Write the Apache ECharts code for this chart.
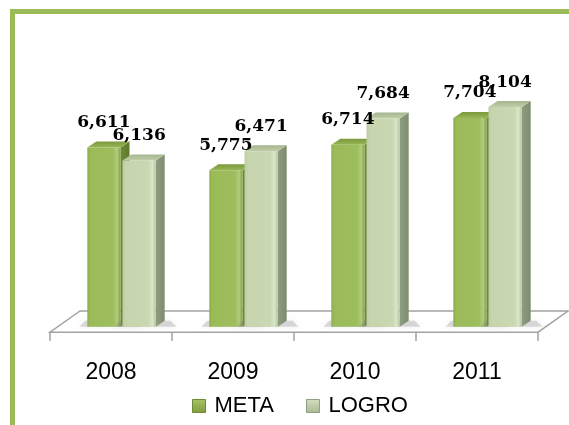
<!DOCTYPE html>
<html>
<head>
<meta charset="utf-8">
<script src="https://cdn.jsdelivr.net/npm/echarts@6/dist/echarts.min.js"></script>
<style>
  html, body { margin: 0; padding: 0; background: #fff; }
  #canvas { width: 569px; height: 425px; }
</style>
</head>
<body>
<div id="canvas"></div>
<script>
const years = ['2008', '2009', '2010', '2011'];
const meta = [6611, 5775, 6714, 7704];
const logro = [6136, 6471, 7684, 8104];

const G = echarts.graphic;
const lin = (x2, y2, stops) => new G.LinearGradient(0, 0, x2, y2,
    stops.map((c, i) => ({offset: c[0], color: c[1]})));

// face colours of the fake 3d bars
const look = {
    META: {
        front: [[0, '#8caf4b'], [0.1, '#9bbb59'], [0.78, '#9ebe5d'], [0.9, '#b2cc7f'], [1, '#83a243']],
        top: [[0, '#7c993c'], [1, '#97b655']],
        side: [[0, '#6f8b37'], [1, '#5f782d']]
    },
    LOGRO: {
        front: [[0, '#bccca4'], [0.1, '#c6d5ad'], [0.78, '#c9d8b2'], [0.9, '#dbe6ca'], [1, '#b6c69d']],
        top: [[0, '#a5b58f'], [1, '#c0cfa8']],
        side: [[0, '#8e9e80'], [1, '#7d8b6f']]
    }
};

let barItem = function (name, left) {
    return function (params, api) {
        var cat = api.value(0), val = api.value(1);
        var base = api.coord([cat, 0]);
        var top = api.coord([cat, val]);
        var bw = api.size([1, 0])[0] * 0.272;
        var x0 = left ? base[0] - 1 - bw : base[0] + 1;
        var x1 = x0 + bw;
        var dx = 9, dy = -6;
        var c = look[name];
        return {
            type: 'group',
            children: [
                {
                    // soft shadow on the floor
                    type: 'polygon',
                    shape: {points: [[x0 - 8, base[1]], [x1 + dx + 12, base[1]], [x1 + dx + 6, base[1] + dy], [x0 - 2, base[1] + dy]]},
                    style: {fill: 'rgba(120,120,120,0.25)', shadowBlur: 6, shadowColor: 'rgba(120,120,120,0.5)'}
                },
                {
                    type: 'polygon',
                    shape: {points: [[x1, top[1]], [x1 + dx, top[1] + dy], [x1 + dx, base[1] + dy], [x1, base[1]]]},
                    style: {fill: lin(1, 0, c.side)}
                },
                {
                    type: 'rect',
                    shape: {x: x0, y: top[1], width: bw, height: base[1] - top[1]},
                    style: {fill: lin(1, 0, c.front)}
                },
                {
                    type: 'polygon',
                    shape: {points: [[x0, top[1]], [x0 + dx, top[1] + dy], [x1 + dx, top[1] + dy], [x1, top[1]]]},
                    style: {fill: lin(0, 1, c.top)}
                },
                {
                    type: 'text',
                    z2: 50,
                    style: {
                        x: x0 + bw / 2,
                        y: top[1] - 25,
                        text: val.toLocaleString('en-US'),
                        align: 'center',
                        verticalAlign: 'middle',
                        font: 'bold 17px "DejaVu Serif"',
                        fill: '#000'
                    }
                }
            ]
        };
    };
};

// floor plate under the bars, built from the category band
let floorItem = function (params, api) {
    var p = api.coord([0, 0]);
    var w = api.size([1, 0])[0];
    var l = p[0] - w / 2, r = l + w * years.length;
    var fy = p[1] + 5.5, by = p[1] - 15.7;
    return {
        type: 'polygon',
        shape: {points: [[l - 10.5, fy], [r - 10.5, fy], [r + 19.5, by], [l + 19.5, by]]},
        style: {fill: '#fff', stroke: '#a3a3a3', lineWidth: 1.5}
    };
};

var dom = document.getElementById('canvas');
var myChart = echarts.init(dom);
var option = {
    backgroundColor: '#fff',
    animation: false,
    graphic: [{
        type: 'rect',
        silent: true,
        shape: {x: 12.5, y: 11.5, width: 640, height: 500},
        style: {fill: null, stroke: '#9bbb59', lineWidth: 5}
    }],
    legend: {
        left: 187,
        top: 390,
        itemWidth: 13,
        itemHeight: 13,
        itemGap: 32,
        textStyle: {fontFamily: 'Liberation Sans', fontSize: 22, color: '#000', padding: [0, 0, 0, 4]},
        data: [
            {name: 'META', icon: 'rect', itemStyle: {color: lin(0, 1, [[0, '#a8c466'], [1, '#7f9c3f']]), borderColor: '#6f8b37', borderWidth: 1}},
            {name: 'LOGRO', icon: 'rect', itemStyle: {color: lin(0, 1, [[0, '#d3dfc0'], [1, '#a9b995']]), borderColor: '#8e9e80', borderWidth: 1}}
        ]
    },
    grid: [
        {left: 60.5, right: 20.5, top: 82.8, bottom: 98.3},
        {left: 50, right: 31, top: 100, bottom: 93}
    ],
    xAxis: [
        {type: 'category', gridIndex: 0, data: years, show: false},
        {
            type: 'category', gridIndex: 1, data: years,
            axisLine: {lineStyle: {color: '#a3a3a3', width: 1.5}},
            axisTick: {show: true, length: 9, lineStyle: {color: '#a3a3a3', width: 1.5}},
            axisLabel: {margin: 29, fontFamily: 'Liberation Sans', fontSize: 23, color: '#000'}
        }
    ],
    yAxis: [
        {type: 'value', gridIndex: 0, min: 0, max: 9000, show: false},
        {type: 'value', gridIndex: 1, show: false}
    ],
    series: [
        {
            name: 'floor',
            type: 'custom',
            silent: true,
            xAxisIndex: 0, yAxisIndex: 0,
            renderItem: floorItem,
            data: [[0, 0]]
        },
        {
            name: 'META',
            type: 'custom',
            xAxisIndex: 0, yAxisIndex: 0,
            itemStyle: {color: '#9bbb59'},
            renderItem: barItem('META', true),
            data: meta.map((v, i) => [i, v])
        },
        {
            name: 'LOGRO',
            type: 'custom',
            xAxisIndex: 0, yAxisIndex: 0,
            itemStyle: {color: '#c6d5ad'},
            renderItem: barItem('LOGRO', false),
            data: logro.map((v, i) => [i, v])
        }
    ]
};
if (option && typeof option === 'object') {
    myChart.setOption(option, true);
}
</script>
</body>
</html>
